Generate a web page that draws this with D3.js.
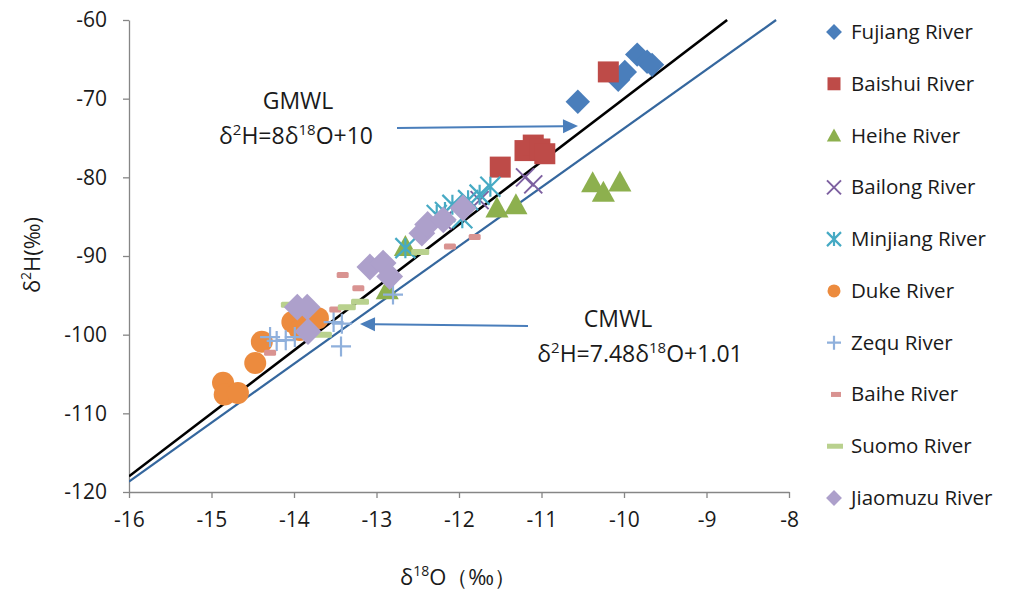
<!DOCTYPE html>
<html>
<head>
<meta charset="utf-8">
<style>
  body { margin: 0; background: #fff; }
  text { font-family: "Open Sans", Lato, sans-serif; fill: #1a1a1a; }
</style>
</head>
<body>
<svg width="1014" height="591"></svg>
<script src="https://cdn.jsdelivr.net/npm/d3@7/dist/d3.min.js"></script>
<script>

// axis ticks
var xTicks = [-16, -15, -14, -13, -12, -11, -10, -9, -8];
var yTicks = [-60, -70, -80, -90, -100, -110, -120];

// series values (d18O, d2H)
var fujiangX = [-10.56, -10.07, -9.99, -9.84, -9.72, -9.66];
var fujiangY = [-70.4, -67.6, -66.6, -64.4, -65.3, -65.7];
var baishuiX = [-10.19, -11.50, -11.20, -11.10, -11.02, -10.96];
var baishuiY = [-66.6, -78.7, -76.6, -75.9, -76.4, -77.0];
var heiheX = [-10.38, -10.25, -10.05, -11.54, -11.31, -12.65, -12.87];
var heiheY = [-80.7, -81.9, -80.6, -83.9, -83.5, -88.8, -94.3];
var bailongX = [-11.2, -11.1, -11.75, -12.2];
var bailongY = [-80.0, -80.9, -82.9, -85.5];
var minjiangX = [-11.62, -11.75, -11.89, -12.08, -12.17, -12.27, -11.96, -12.65];
var minjiangY = [-81.2, -82.2, -82.9, -83.5, -84.4, -84.8, -85.2, -89.0];
var dukeX = [-14.86, -14.84, -14.68, -14.47, -14.39, -14.02, -13.89, -13.71, -13.93];
var dukeY = [-106.1, -107.6, -107.4, -103.6, -100.9, -98.4, -97.9, -97.9, -99.4];
var zequX = [-14.29, -14.21, -14.10, -13.99, -13.52, -13.42, -13.43, -12.80];
var zequY = [-100.3, -100.8, -100.7, -100.3, -98.4, -98.6, -101.5, -94.9];
var baiheX = [-13.41, -13.22, -13.50, -14.29, -12.11, -11.81];
var baiheY = [-92.4, -94.1, -96.8, -102.3, -88.8, -87.6];
var suomoX = [-14.05, -13.36, -13.20, -13.65, -12.47];
var suomoY = [-96.2, -96.5, -95.8, -100.0, -89.5];
var jiaomuzuX = [-13.08, -12.92, -12.45, -12.38, -12.19, -11.95, -12.84, -13.96, -13.84, -13.83];
var jiaomuzuY = [-91.4, -90.9, -87.1, -86.0, -85.4, -83.9, -92.6, -96.5, -96.5, -99.6];

var seriesNames = ["Fujiang River", "Baishui River", "Heihe River", "Bailong River", "Minjiang River",
                   "Duke River", "Zequ River", "Baihe River", "Suomo River", "Jiaomuzu River"];
var seriesX = [fujiangX, baishuiX, heiheX, bailongX, minjiangX, dukeX, zequX, baiheX, suomoX, jiaomuzuX];
var seriesY = [fujiangY, baishuiY, heiheY, bailongY, minjiangY, dukeY, zequY, baiheY, suomoY, jiaomuzuY];
var colors = ["#4A7EBB", "#BE4B48", "#8DB04E", "#7D60A0", "#46AAC4",
              "#EC8B3E", "#8FB0DC", "#D99391", "#B9D18E", "#ADA0CB"];
var shapes = ["diamond", "square", "triangle", "x", "star", "circle", "plus", "dash", "longdash", "diamond"];

var svg = d3.select("svg");

var x = d3.scaleLinear().domain([-16, -8]).range([129, 789]);
var y = d3.scaleLinear().domain([-120, -60]).range([492, 20]);

// axes (plain hyphen for negatives, like the original)
var fmt = function(d) { return String(d); };
var xAxis = svg.append("g")
    .attr("transform", "translate(0," + y(-120) + ")")
    .call(d3.axisBottom(x).tickValues(xTicks).tickFormat(fmt).tickSize(6).tickSizeOuter(0).tickPadding(14));
var yAxis = svg.append("g")
    .attr("transform", "translate(" + x(-16) + ",0)")
    .call(d3.axisLeft(y).tickValues(yTicks).tickFormat(fmt).tickSize(6).tickSizeOuter(0).tickPadding(16));
[xAxis, yAxis].forEach(function(a) {
  a.selectAll("path, line").attr("stroke", "#868686").attr("stroke-width", 1.3);
  a.selectAll("text").style("font-size", "21px").attr("fill", "#1a1a1a");
});

// water lines, cut at the top of the plot
var clip = svg.append("clipPath").attr("id", "plotclip")
  .append("rect").attr("x", 129).attr("y", 19).attr("width", 700).attr("height", 473);

var gmwl = function(o) { return 8 * o + 10; };
var cmwl = function(o) { return 7.48 * o + 1.01; };
var lineX = [-16, -8];

svg.append("g").attr("clip-path", "url(#plotclip)").append("line")
    .attr("x1", x(lineX[0])).attr("y1", y(gmwl(lineX[0])))
    .attr("x2", x((-60 - 10) / 8)).attr("y2", y(-60))
    .attr("stroke", "#000").attr("stroke-width", 2.6);
svg.append("g").attr("clip-path", "url(#plotclip)").append("line")
    .attr("x1", x(lineX[0])).attr("y1", y(cmwl(lineX[0])))
    .attr("x2", x((-60 - 1.01) / 7.48)).attr("y2", y(-60))
    .attr("stroke", "#35679E").attr("stroke-width", 2.2);

// marker drawing
function drawMarker(g, shape, color, s) {
  if (shape === "diamond") {
    g.append("path").attr("d", d3.symbol(d3.symbolDiamond2, s * s * 0.95)()).attr("fill", color);
  } else if (shape === "square") {
    g.append("rect").attr("x", -s / 2).attr("y", -s / 2).attr("width", s).attr("height", s).attr("fill", color);
  } else if (shape === "triangle") {
    g.append("path").attr("d", "M0," + (-s * 0.55) + "L" + (s * 0.55) + "," + (s * 0.45) + "L" + (-s * 0.55) + "," + (s * 0.45) + "Z")
      .attr("fill", color);
  } else if (shape === "circle") {
    g.append("circle").attr("r", s / 2).attr("fill", color);
  } else if (shape === "x") {
    var h = s / 2;
    g.append("path").attr("d", "M" + -h + "," + -h + "L" + h + "," + h + "M" + -h + "," + h + "L" + h + "," + -h)
      .attr("stroke", color).attr("stroke-width", 2);
  } else if (shape === "plus") {
    var p = s / 2;
    g.append("path").attr("d", "M" + -p + ",0L" + p + ",0M0," + -p + "L0," + p)
      .attr("stroke", color).attr("stroke-width", 2.2);
  } else if (shape === "star") {
    var r = s / 2;
    g.append("path").attr("d", "M" + -r + "," + -r + "L" + r + "," + r + "M" + -r + "," + r + "L" + r + "," + -r + "M0," + -r + "L0," + r)
      .attr("stroke", color).attr("stroke-width", 2.2);
  } else if (shape === "dash") {
    g.append("rect").attr("x", -6).attr("y", -3).attr("width", 12).attr("height", 6).attr("rx", 1.5).attr("fill", color);
  } else if (shape === "longdash") {
    g.append("rect").attr("x", -9).attr("y", -3).attr("width", 18).attr("height", 6).attr("rx", 1.5).attr("fill", color);
  }
}

var markerSize = [20, 21, 21, 18, 20, 22, 20, 12, 18, 22];

seriesNames.forEach(function(name, i) {
  var pts = seriesX[i].map(function(v, k) { return [v, seriesY[i][k]]; });
  var g = svg.append("g").attr("class", "series");
  g.selectAll("g").data(pts).enter().append("g")
    .attr("transform", function(d) { return "translate(" + x(d[0]) + "," + y(d[1]) + ")"; })
    .each(function() { drawMarker(d3.select(this), shapes[i], colors[i], markerSize[i]); });
});

// legend
var legendY = d3.scaleLinear().domain([0, 9]).range([32, 498]);
var legend = svg.append("g");
seriesNames.forEach(function(name, i) {
  var row = legend.append("g").attr("transform", "translate(0," + legendY(i) + ")");
  var m = row.append("g").attr("transform", "translate(834,0)");
  if (shapes[i] === "dash") {
    m.append("rect").attr("x", -3).attr("y", -2.5).attr("width", 10).attr("height", 5).attr("fill", colors[i]);
  } else if (shapes[i] === "longdash") {
    m.append("rect").attr("x", -7).attr("y", -2.5).attr("width", 16).attr("height", 5).attr("fill", colors[i]);
  } else {
    drawMarker(m, shapes[i], colors[i], shapes[i] === "x" || shapes[i] === "plus" || shapes[i] === "star" ? 14 : 13);
  }
  row.append("text").attr("x", 851).attr("y", 7).style("font-size", "20.5px").text(name);
});

// text with superscripts: parts are [text, isSup]
function richText(t, parts, supSize) {
  var raised = false;
  parts.forEach(function(p) {
    var s = t.append("tspan").text(p[0]);
    if (p[1] && !raised) { s.attr("dy", -9).style("font-size", supSize); raised = true; }
    else if (p[1]) { s.style("font-size", supSize); }
    else if (raised) { s.attr("dy", 9); raised = false; }
  });
  return t;
}

svg.append("text").attr("x", 298).attr("y", 109).attr("text-anchor", "middle").style("font-size", "23px").text("GMWL");
richText(svg.append("text").attr("x", 296).attr("y", 144).attr("text-anchor", "middle").style("font-size", "23px"),
  [["δ"], ["2", 1], ["H=8δ"], ["18", 1], ["O+10"]], "15px");
svg.append("text").attr("x", 618).attr("y", 327).attr("text-anchor", "middle").style("font-size", "23px").text("CMWL");
richText(svg.append("text").attr("x", 640).attr("y", 362).attr("text-anchor", "middle").style("font-size", "23px"),
  [["δ"], ["2", 1], ["H=7.48δ"], ["18", 1], ["O+1.01"]], "15px");

// arrows
var arrowColor = "#4A7EBB";
function arrow(x1, y1, x2, y2) {
  var ang = Math.atan2(y2 - y1, x2 - x1);
  var L = 15, W = 7;
  var bx = x2 - L * Math.cos(ang), by = y2 - L * Math.sin(ang);
  svg.append("line").attr("x1", x1).attr("y1", y1).attr("x2", bx).attr("y2", by)
    .attr("stroke", arrowColor).attr("stroke-width", 2);
  svg.append("path")
    .attr("d", "M" + x2 + "," + y2 +
      "L" + (bx - W * Math.sin(ang)) + "," + (by + W * Math.cos(ang)) +
      "L" + (bx + W * Math.sin(ang)) + "," + (by - W * Math.cos(ang)) + "Z")
    .attr("fill", arrowColor);
}
arrow(397, 128, 578, 126);
arrow(528, 326, 360, 324);

// axis titles
richText(svg.append("text").attr("x", 458).attr("y", 585).attr("text-anchor", "middle").style("font-size", "22px"),
  [["δ"], ["18", 1], ["O（‰）"]], "14px");
richText(svg.append("text").attr("transform", "translate(40,255) rotate(-90)").attr("text-anchor", "middle").style("font-size", "22px"),
  [["δ"], ["2", 1], ["H(‰)"]], "14px");

</script>
</body>
</html>
